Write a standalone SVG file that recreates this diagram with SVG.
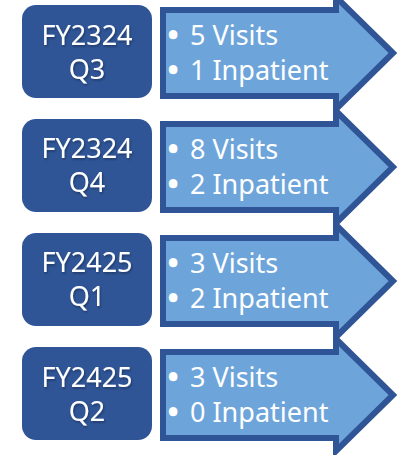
<svg xmlns="http://www.w3.org/2000/svg" width="406" height="455" viewBox="0 0 406 455">
<style>
.box{fill:#2F5597;}
.arrow{fill:#6DA5DB;stroke:#2F5597;stroke-width:6;stroke-linejoin:miter;}
.t{font-family:"Noto Sans","Open Sans",sans-serif;font-size:27px;fill:#FFFFFF;}
.c{text-anchor:middle;}
.b{stroke:#FFFFFF;stroke-width:2.5;}
</style>
<defs>
<filter id="sh" x="-10%" y="-20%" width="130%" height="150%">
<feDropShadow dx="1" dy="1.5" stdDeviation="1" flood-color="#000" flood-opacity="0.35"/>
</filter>
<path id="arr" d="M163,10 L336,10 L336,-3 L393,53 L336,109 L336,96 L163,96 Z"/>
</defs>
<g id="row1">
<g id="period1"><rect class="box" x="22" y="5" width="130" height="93" rx="14"/>
<text class="t c" x="87" y="44.5" filter="url(#sh)">FY2324<tspan x="87" dy="34">Q3</tspan></text></g>
<g id="stats1"><use href="#arr" class="arrow"/>
<text class="t" x="168" y="45"><tspan class="b">•</tspan><tspan x="190">5 Visits</tspan></text>
<text class="t" x="168" y="80"><tspan class="b">•</tspan><tspan x="190">1 Inpatient</tspan></text></g>
</g>
<g id="row2" transform="translate(0,114)">
<g id="period2"><rect class="box" x="22" y="5" width="130" height="93" rx="14"/>
<text class="t c" x="87" y="43.5" filter="url(#sh)">FY2324<tspan x="87" dy="34">Q4</tspan></text></g>
<g id="stats2"><use href="#arr" class="arrow"/>
<text class="t" x="168" y="45"><tspan class="b">•</tspan><tspan x="190">8 Visits</tspan></text>
<text class="t" x="168" y="80"><tspan class="b">•</tspan><tspan x="190">2 Inpatient</tspan></text></g>
</g>
<g id="row3" transform="translate(0,228)">
<g id="period3"><rect class="box" x="22" y="5" width="130" height="93" rx="14"/>
<text class="t c" x="87" y="43.5" filter="url(#sh)">FY2425<tspan x="87" dy="34">Q1</tspan></text></g>
<g id="stats3"><use href="#arr" class="arrow"/>
<text class="t" x="168" y="45"><tspan class="b">•</tspan><tspan x="190">3 Visits</tspan></text>
<text class="t" x="168" y="80"><tspan class="b">•</tspan><tspan x="190">2 Inpatient</tspan></text></g>
</g>
<g id="row4" transform="translate(0,342)">
<g id="period4"><rect class="box" x="22" y="5" width="130" height="93" rx="14"/>
<text class="t c" x="87" y="45" filter="url(#sh)">FY2425<tspan x="87" dy="34">Q2</tspan></text></g>
<g id="stats4"><use href="#arr" class="arrow"/>
<text class="t" x="168" y="45"><tspan class="b">•</tspan><tspan x="190">3 Visits</tspan></text>
<text class="t" x="168" y="80"><tspan class="b">•</tspan><tspan x="190">0 Inpatient</tspan></text></g>
</g>
<g id="connectors"/>
</svg>
